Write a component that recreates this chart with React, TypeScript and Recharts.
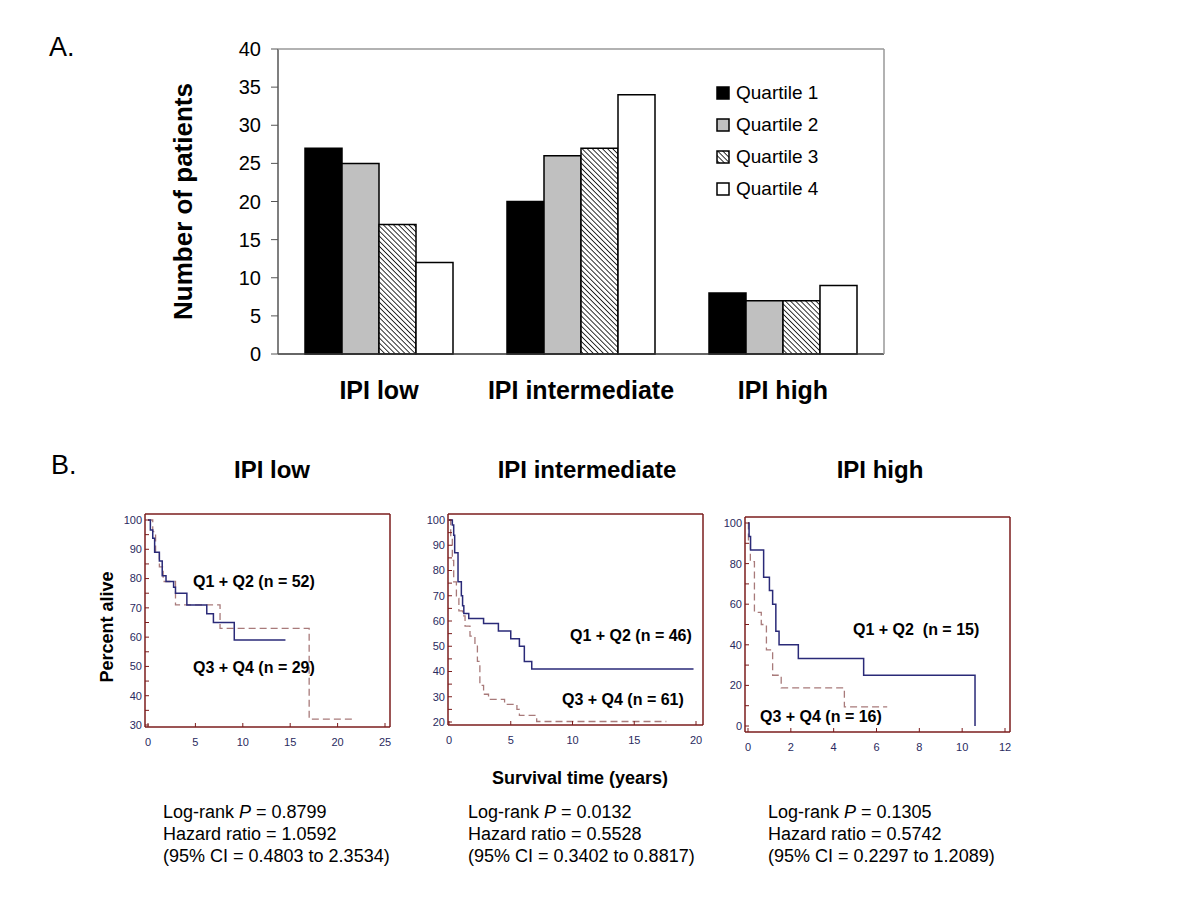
import React from 'react';
import { BarChart, Bar, XAxis, YAxis, Legend, LineChart, Line } from 'recharts';

// Panel A: patients per IPI group, split by quartile
const groups = ['IPI low', 'IPI intermediate', 'IPI high'];
const quartile1 = [27, 20, 8];
const quartile2 = [25, 26, 7];
const quartile3 = [17, 27, 7];
const quartile4 = [12, 34, 9];
const quartileNames = ['Quartile 1', 'Quartile 2', 'Quartile 3', 'Quartile 4'];
const countTicks = [0, 5, 10, 15, 20, 25, 30, 35, 40];
const groupBounds = [0, 1, 2, 3];

// Panel B: Kaplan-Meier steps, [years, percent alive]
const lowQ12 = [[0, 100], [0.25, 96.6], [0.5, 93.8], [0.7, 89], [1.2, 86], [1.5, 81], [1.9, 79], [2.7, 77], [2.9, 75], [4.1, 71], [6.2, 68], [6.9, 65], [9.1, 59], [14.5, 59]];
const lowQ34 = [[0, 100], [0.5, 96], [0.8, 89], [1.2, 84], [1.6, 79], [2.9, 71], [7.6, 63], [17, 32], [21.7, 32]];
const intQ12 = [[0, 100], [0.27, 98], [0.38, 94], [0.46, 87], [0.73, 75.5], [1.0, 70], [1.1, 66], [1.2, 63], [1.6, 61], [2.8, 59], [4.0, 56], [5.0, 53], [5.7, 50], [6.1, 44], [6.7, 41], [19.8, 41]];
const intQ34 = [[0, 100], [0.14, 93], [0.27, 84], [0.38, 75.5], [0.6, 69], [0.8, 64], [1.1, 62], [1.3, 58], [1.7, 54], [2.1, 50], [2.3, 44], [2.5, 34.5], [2.8, 31], [3.2, 29], [4.5, 27], [5.5, 25], [5.7, 22.6], [7.1, 20.2], [17.6, 20.2]];
const highQ12 = [[0, 100], [0.05, 93.3], [0.12, 86.7], [0.73, 73.3], [1.0, 66.7], [1.15, 60], [1.3, 46.7], [1.45, 40], [2.35, 33.3], [5.4, 25], [10.6, 0]];
const highQ34 = [[0, 100], [0.02, 90], [0.11, 81], [0.3, 56], [0.62, 50], [0.86, 37.5], [1.15, 25], [1.55, 18.8], [4.5, 9.4], [6.5, 9.4]];

const lowXTicks = [0, 5, 10, 15, 20, 25];
const intXTicks = [0, 5, 10, 15, 20];
const highXTicks = [0, 2, 4, 6, 8, 10, 12];
const lowYTicks = [30, 35, 40, 45, 50, 55, 60, 65, 70, 75, 80, 85, 90, 95, 100];
const intYTicks = [20, 25, 30, 35, 40, 45, 50, 55, 60, 65, 70, 75, 80, 85, 90, 95, 100];
const highYTicks = [0, 10, 20, 30, 40, 50, 60, 70, 80, 90, 100];

const FONT = 'Arial, "Liberation Sans", Helvetica, sans-serif';
const NAVY = '#2a2a78';
const ROSE = '#a87a7a';
const MAROON = '#7b1c1c';
const TICK_BLUE = '#2a2a60';
const fills = ['#000000', '#c0c0c0', 'url(#hatch)', '#ffffff'];

const barData = groups.map((g, i) => ({
  group: g,
  q1: quartile1[i],
  q2: quartile2[i],
  q3: quartile3[i],
  q4: quartile4[i],
}));

const toPts = (rows: number[][]) => rows.map(([t, s]) => ({ t, s }));

type TxtProps = {
  x: number;
  y: number;
  size: number;
  bold?: boolean;
  center?: boolean;
  rotate?: boolean;
  children: React.ReactNode;
};

// absolutely placed text, y is the vertical centre of the line
const Txt = ({ x, y, size, bold, center, rotate, children }: TxtProps) => (
  <div
    style={{
      position: 'absolute',
      left: x,
      top: y,
      fontSize: size,
      fontWeight: bold ? 'bold' : 'normal',
      lineHeight: 1,
      whiteSpace: 'nowrap',
      transform: `translate(${center ? '-50%' : '0'}, -50%)${rotate ? ' rotate(-90deg)' : ''}`,
    }}
  >
    {children}
  </div>
);

const QuartileLegend = () => (
  <div style={{ fontFamily: FONT }}>
    {quartileNames.map((name, i) => (
      <div key={name} style={{ display: 'flex', alignItems: 'center', height: 32 }}>
        <svg width={14} height={14} style={{ marginRight: 6 }}>
          <rect x={1} y={1} width={12} height={12} fill={fills[i]} stroke="#000" strokeWidth={1.5} />
        </svg>
        <span style={{ fontSize: 19, color: '#000' }}>{name}</span>
      </div>
    ))}
  </div>
);

type KmProps = {
  q12: number[][];
  q34: number[][];
  xMax: number;
  xTicks: number[];
  yMin: number;
  yTicks: number[];
  labelStep: number;
  left: number;
  top: number;
  width: number;
  marginTop: number;
  marginRight: number;
  yAxisWidth: number;
  xAxisHeight: number;
  xPad: { left: number; right: number };
  yPad: { top: number; bottom: number };
};

function KmPanel(p: KmProps) {
  const tickStyle = { fontSize: 11, fill: TICK_BLUE, fontFamily: FONT };
  const border = { stroke: MAROON, strokeWidth: 1.5 };
  return (
    <div style={{ position: 'absolute', left: p.left, top: p.top }}>
      <LineChart
        width={p.width}
        height={260}
        margin={{ top: p.marginTop - 1, right: p.marginRight - 1, left: 0, bottom: 0 }}
      >
        <XAxis
          type="number"
          dataKey="t"
          domain={[0, p.xMax]}
          ticks={p.xTicks}
          padding={p.xPad}
          height={p.xAxisHeight}
          axisLine={border}
          tickLine={{ stroke: MAROON }}
          tickSize={-4}
          tickMargin={15}
          tick={tickStyle}
          interval={0}
        />
        <YAxis
          type="number"
          domain={[p.yMin, 100]}
          ticks={p.yTicks}
          padding={p.yPad}
          width={p.yAxisWidth}
          axisLine={border}
          tickLine={{ stroke: MAROON }}
          tickSize={-4}
          tickMargin={7}
          tick={tickStyle}
          interval={0}
          tickFormatter={(v: number) => ((v - p.yMin) % p.labelStep === 0 ? String(v) : '')}
        />
        <XAxis
          xAxisId="top"
          orientation="top"
          type="number"
          domain={[0, 1]}
          ticks={[0, 1]}
          height={1}
          tick={false}
          tickLine={false}
          axisLine={border}
        />
        <YAxis
          yAxisId="right"
          orientation="right"
          type="number"
          domain={[0, 1]}
          ticks={[0, 1]}
          width={1}
          tick={false}
          tickLine={false}
          axisLine={border}
        />
        <Line
          data={toPts(p.q34)}
          dataKey="s"
          type="stepAfter"
          stroke={ROSE}
          strokeWidth={1.3}
          strokeDasharray="7 4"
          dot={false}
          isAnimationActive={false}
        />
        <Line
          data={toPts(p.q12)}
          dataKey="s"
          type="stepAfter"
          stroke={NAVY}
          strokeWidth={1.5}
          dot={false}
          isAnimationActive={false}
        />
      </LineChart>
    </div>
  );
}

export default function App() {
  const frame = { stroke: '#999', strokeWidth: 1.5 };
  return (
    <div
      style={{
        position: 'absolute',
        left: 0,
        top: 0,
        width: 1200,
        height: 900,
        background: '#fff',
        fontFamily: FONT,
        color: '#000',
        overflow: 'hidden',
      }}
    >
      <svg width={0} height={0} style={{ position: 'absolute' }}>
        <defs>
          <pattern id="hatch" patternUnits="userSpaceOnUse" width={3.6} height={3.6} patternTransform="rotate(-45)">
            <rect width={3.6} height={3.6} fill="#fff" />
            <line x1={0} y1={0} x2={0} y2={3.6} stroke="#000" strokeWidth={1.6} />
          </pattern>
        </defs>
      </svg>

      {/* A. */}
      <Txt x={49} y={47} size={27}>A.</Txt>
      <div style={{ position: 'absolute', left: 0, top: 0 }}>
        <BarChart
          width={950}
          height={420}
          data={barData}
          margin={{ top: 48, right: 65, left: 178, bottom: 0 }}
          barGap={0}
          barSize={37}
        >
          {/* default x axis: baseline with separator ticks between the IPI groups */}
          <XAxis
            type="number"
            domain={[0, 3]}
            ticks={groupBounds}
            height={1}
            tick={false}
            tickLine={{ stroke: '#555' }}
            tickSize={6}
            axisLine={{ stroke: '#333', strokeWidth: 1.5 }}
          />
          <XAxis
            xAxisId="cat"
            dataKey="group"
            height={65}
            axisLine={false}
            tickLine={false}
            tickSize={6}
            tickMargin={20}
            tick={{ fontSize: 25, fontWeight: 'bold', fill: '#000', fontFamily: FONT }}
            interval={0}
          />
          <YAxis
            domain={[0, 40]}
            ticks={countTicks}
            width={100}
            axisLine={{ stroke: '#555', strokeWidth: 1.5 }}
            tickLine={{ stroke: '#555' }}
            tickSize={7}
            tickMargin={10}
            tick={{ fontSize: 20, fill: '#000', fontFamily: FONT }}
            interval={0}
            label={{
              value: 'Number of patients',
              angle: -90,
              position: 'insideLeft',
              style: { textAnchor: 'middle', fontSize: 26, fontWeight: 'bold', fill: '#000', fontFamily: FONT },
            }}
          />
          <XAxis
            xAxisId="top"
            orientation="top"
            type="number"
            domain={[0, 1]}
            ticks={[0, 1]}
            height={1}
            tick={false}
            tickLine={false}
            axisLine={frame}
          />
          <YAxis
            yAxisId="right"
            orientation="right"
            type="number"
            domain={[0, 1]}
            ticks={[0, 1]}
            width={1}
            tick={false}
            tickLine={false}
            axisLine={frame}
          />
          <Legend
            layout="vertical"
            verticalAlign="middle"
            align="center"
            content={() => <QuartileLegend />}
            wrapperStyle={{ position: 'absolute', left: 716, top: 77, width: 140 }}
          />
          {['q1', 'q2', 'q3', 'q4'].map((k, i) => (
            <Bar
              key={k}
              xAxisId="cat"
              dataKey={k}
              name={quartileNames[i]}
              fill={fills[i]}
              stroke="#000"
              strokeWidth={1.5}
              isAnimationActive={false}
            />
          ))}
        </BarChart>
      </div>

      {/* B. */}
      <Txt x={51} y={465} size={27}>B.</Txt>
      <Txt x={272} y={470} size={24} bold center>IPI low</Txt>
      <Txt x={587} y={470} size={24} bold center>IPI intermediate</Txt>
      <Txt x={880} y={470} size={24} bold center>IPI high</Txt>

      <KmPanel
        q12={lowQ12}
        q34={lowQ34}
        xMax={25}
        xTicks={lowXTicks}
        yMin={30}
        yTicks={lowYTicks}
        labelStep={10}
        left={100}
        top={500}
        width={300}
        marginTop={14}
        marginRight={10}
        yAxisWidth={45}
        xAxisHeight={33}
        xPad={{ left: 3, right: 5 }}
        yPad={{ top: 6, bottom: 2 }}
      />
      <KmPanel
        q12={intQ12}
        q34={intQ34}
        xMax={20}
        xTicks={intXTicks}
        yMin={20}
        yTicks={intYTicks}
        labelStep={10}
        left={400}
        top={500}
        width={310}
        marginTop={14}
        marginRight={7}
        yAxisWidth={48}
        xAxisHeight={35}
        xPad={{ left: 1, right: 7 }}
        yPad={{ top: 6, bottom: 3 }}
      />
      <KmPanel
        q12={highQ12}
        q34={highQ34}
        xMax={12}
        xTicks={highXTicks}
        yMin={0}
        yTicks={highYTicks}
        labelStep={20}
        left={700}
        top={500}
        width={320}
        marginTop={17}
        marginRight={10}
        yAxisWidth={45}
        xAxisHeight={28}
        xPad={{ left: 3, right: 5 }}
        yPad={{ top: 6, bottom: 6 }}
      />

      <Txt x={193} y={582} size={16} bold>Q1 + Q2 (n = 52)</Txt>
      <Txt x={193} y={668} size={16} bold>Q3 + Q4 (n = 29)</Txt>
      <Txt x={570} y={636} size={16} bold>Q1 + Q2 (n = 46)</Txt>
      <Txt x={562} y={700} size={16} bold>Q3 + Q4 (n = 61)</Txt>
      <Txt x={853} y={630} size={16} bold>Q1 + Q2&nbsp;&nbsp;(n = 15)</Txt>
      <Txt x={760} y={717} size={16} bold>Q3 + Q4 (n = 16)</Txt>

      <Txt x={107} y={627} size={18} bold center rotate>Percent alive</Txt>
      <Txt x={580} y={778} size={18} bold center>Survival time (years)</Txt>

      <Txt x={163} y={812} size={18}>Log-rank <i>P</i> = 0.8799</Txt>
      <Txt x={163} y={834} size={18}>Hazard ratio = 1.0592</Txt>
      <Txt x={163} y={856} size={18}>(95% CI = 0.4803 to 2.3534)</Txt>
      <Txt x={468} y={812} size={18}>Log-rank <i>P</i> = 0.0132</Txt>
      <Txt x={468} y={834} size={18}>Hazard ratio = 0.5528</Txt>
      <Txt x={468} y={856} size={18}>(95% CI = 0.3402 to 0.8817)</Txt>
      <Txt x={768} y={812} size={18}>Log-rank <i>P</i> = 0.1305</Txt>
      <Txt x={768} y={834} size={18}>Hazard ratio = 0.5742</Txt>
      <Txt x={768} y={856} size={18}>(95% CI = 0.2297 to 1.2089)</Txt>
    </div>
  );
}
